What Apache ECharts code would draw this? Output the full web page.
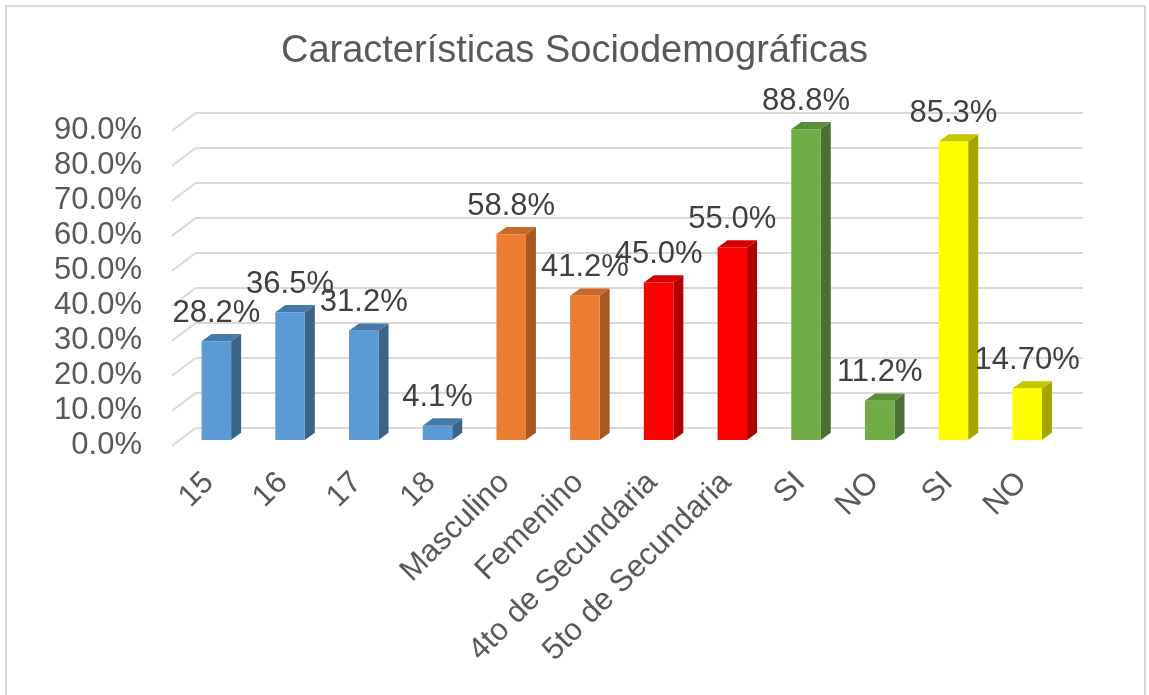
<!DOCTYPE html>
<html>
<head>
<meta charset="utf-8">
<title>Características Sociodemográficas</title>
<script src="https://cdn.jsdelivr.net/npm/echarts@6/dist/echarts.min.js"></script>
<style>
  html, body { margin: 0; padding: 0; background: #fff; }
  #chart { width: 1149px; height: 695px; }
</style>
</head>
<body>
<div id="chart"></div>
<script>
// data
var categories = ['15', '16', '17', '18', 'Masculino', 'Femenino', '4to de Secundaria', '5to de Secundaria', 'SI', 'NO', 'SI', 'NO']
var values = [28.2, 36.5, 31.2, 4.1, 58.8, 41.2, 45.0, 55.0, 88.8, 11.2, 85.3, 14.7]
var valueLabels = ['28.2%', '36.5%', '31.2%', '4.1%', '58.8%', '41.2%', '45.0%', '55.0%', '88.8%', '11.2%', '85.3%', '14.70%']
var groups = [0, 0, 0, 0, 1, 1, 2, 2, 3, 3, 4, 4]
var tickValues = [0, 10, 20, 30, 40, 50, 60, 70, 80, 90]

// front / side / top colour for each group
var palette = [
  ['#5B9BD5', '#3B6489', '#4679A9'],
  ['#ED7D31', '#A9581F', '#C8692A'],
  ['#FF0000', '#B00000', '#D60000'],
  ['#70AD47', '#4B7031', '#5B8D39'],
  ['#FFFF00', '#A5A500', '#C6C600']
]

var FONT = '"Liberation Sans", Arial, sans-serif'
var barW = 29.5, depthX = 10, depthY = 7.3
var wallDX = 24, wallDY = 18

var chart = echarts.init(document.getElementById('chart'))

function drawBar(params, api) {
  var i = api.value(0)
  var v = api.value(1)
  var top = api.coord([i, v])
  var base = api.coord([i, 0])
  var c = palette[groups[i]]
  var x0 = top[0] - barW / 2, x1 = top[0] + barW / 2
  return {
    type: 'group',
    children: [
      {
        type: 'polygon',
        shape: { points: [[x1, top[1]], [x1 + depthX, top[1] - depthY], [x1 + depthX, base[1] - depthY], [x1, base[1]]] },
        style: { fill: c[1] }
      },
      {
        type: 'polygon',
        shape: { points: [[x0, top[1]], [x0 + depthX, top[1] - depthY], [x1 + depthX, top[1] - depthY], [x1, top[1]]] },
        style: { fill: c[2] }
      },
      {
        type: 'rect',
        shape: { x: x0, y: top[1], width: barW, height: base[1] - top[1] },
        style: { fill: c[0] }
      },
      {
        type: 'text',
        x: top[0],
        y: top[1] - 28,
        style: {
          text: valueLabels[i],
          align: 'center',
          verticalAlign: 'middle',
          fill: '#404040',
          font: '31px ' + FONT
        }
      }
    ]
  }
}

function drawSideLine(params, api) {
  var p = api.coord([0, api.value(0)])
  var x = params.coordSys.x
  return {
    type: 'line',
    shape: { x1: x - wallDX, y1: p[1] + wallDY, x2: x, y2: p[1] },
    style: { stroke: '#D9D9D9', lineWidth: 2 }
  }
}

chart.setOption({
  animation: false,
  title: {
    text: 'Características Sociodemográficas',
    left: 'center',
    top: 28,
    textStyle: { fontFamily: FONT, fontSize: 38, fontWeight: 'normal', color: '#595959' }
  },
  graphic: [{
    type: 'rect',
    shape: { x: 6, y: 6, width: 1139, height: 700 },
    style: { fill: 'none', stroke: '#D9D9D9', lineWidth: 2 },
    z: -10
  }],
  grid: [
    // back wall
    { left: 196, right: 66, top: 112.7, bottom: 267.3 },
    // front plane (axis labels)
    { left: 172, right: 90, top: 130.7, bottom: 249.3 },
    // bar plane
    { left: 179.5, right: 85, top: 125, bottom: 255 }
  ],
  xAxis: [
    { gridIndex: 0, type: 'category', data: categories, show: false },
    {
      gridIndex: 1, type: 'category', data: categories,
      axisLine: { show: false }, axisTick: { show: false },
      axisLabel: { interval: 0, rotate: 45, margin: 32, color: '#595959', fontFamily: FONT, fontSize: 31 }
    },
    { gridIndex: 2, type: 'category', data: categories, show: false }
  ],
  yAxis: [
    {
      gridIndex: 0, type: 'value', min: 0, max: 90, interval: 10,
      axisLine: { show: false }, axisTick: { show: false }, axisLabel: { show: false },
      splitLine: { lineStyle: { color: '#D9D9D9', width: 2 } }
    },
    {
      gridIndex: 1, type: 'value', min: 0, max: 90, interval: 10,
      axisLine: { show: false }, axisTick: { show: false }, splitLine: { show: false },
      axisLabel: {
        margin: 30, color: '#595959', fontFamily: FONT, fontSize: 31,
        padding: [5, 0, 0, 0],
        formatter: function (v) { return v.toFixed(1) + '%' }
      }
    },
    { gridIndex: 2, type: 'value', min: 0, max: 90, show: false }
  ],
  series: [
    {
      type: 'custom',
      xAxisIndex: 0, yAxisIndex: 0,
      renderItem: drawSideLine,
      data: tickValues.map(function (t) { return [t] }),
      silent: true
    },
    {
      type: 'custom',
      xAxisIndex: 2, yAxisIndex: 2,
      renderItem: drawBar,
      data: values.map(function (v, i) { return [i, v] }),
      z: 5
    }
  ]
})
</script>
</body>
</html>
